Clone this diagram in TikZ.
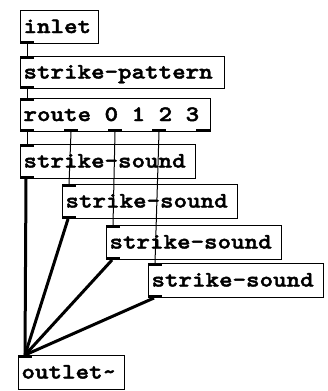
\documentclass[tikz,border=0pt]{standalone}
\usepackage{fontspec}
\newfontfamily\pdfont[FakeStretch=1.17,FakeBold=2]{lmmonolt10-bold.otf}
\newcommand\pdtxt[2]{\makebox[#1][l]{#2}}
\begin{document}
\begin{tikzpicture}[x=1pt,y=-1pt,
  pdbox/.style={draw, line width=1pt, anchor=north west,
    inner xsep=3pt, inner ysep=0pt, minimum height=#1,
    text height=15pt, text depth=3pt,
    font=\pdfont\fontsize{22}{26}\selectfont},
  ctl/.style={line width=1pt},
  sig/.style={line width=3pt}]
\useasboundingbox[fill=white] (0,0) rectangle (328,391);

\node[pdbox=33pt] (inl) at (20,10)  {\pdtxt{72pt}{inlet}};
\node[pdbox=32pt] (pat) at (20,56)  {\pdtxt{198pt}{strike-pattern}};
\node[pdbox=33pt] (rt)  at (20,98)  {\pdtxt{184pt}{route 0 1 2 3}};
\node[pdbox=34pt] (ss1) at (20,144) {\pdtxt{169pt}{strike-sound}};
\node[pdbox=34pt] (ss2) at (62,184) {\pdtxt{169pt}{strike-sound}};
\node[pdbox=34pt] (ss3) at (106,225) {\pdtxt{169pt}{strike-sound}};
\node[pdbox=34pt] (ss4) at (148,263) {\pdtxt{169pt}{strike-sound}};
\node[pdbox=34pt] (out) at (18,355) {\pdtxt{100pt}{outlet\char`\~}};

% tabs (inlets / outlets)
\fill (inl.south west) rectangle ++(14,-3);
\fill (pat.north west) rectangle ++(14,3);
\fill (pat.south west) rectangle ++(14,-3);
\fill (rt.north west) rectangle ++(14,3);
\foreach \dx in {0,44,88,132,176}
  \fill ([xshift=\dx]rt.south west) rectangle ++(14,-3);
\foreach \n in {ss1,ss2,ss3,ss4} {
  \fill (\n.north west) rectangle ++(14,3);
  \fill (\n.south west) rectangle ++(14,-3);
}
\fill (out.north west) rectangle ++(14,3);

% control connections
\draw[ctl] ([xshift=7]inl.south west) -- ([xshift=7]pat.north west);
\draw[ctl] ([xshift=7]pat.south west) -- ([xshift=7]rt.north west);
\draw[ctl] ([xshift=7]rt.south west) -- ([xshift=7]ss1.north west);
\draw[ctl] ([xshift=51]rt.south west) -- ([xshift=7]ss2.north west);
\draw[ctl] ([xshift=95]rt.south west) -- ([xshift=7]ss3.north west);
\draw[ctl] ([xshift=139]rt.south west) -- ([xshift=7]ss4.north west);

% signal connections
\foreach \n in {ss1,ss2,ss3,ss4}
  \draw[sig] ([xshift=6]\n.south west) -- ([xshift=7]out.north west);
\end{tikzpicture}
\end{document}
